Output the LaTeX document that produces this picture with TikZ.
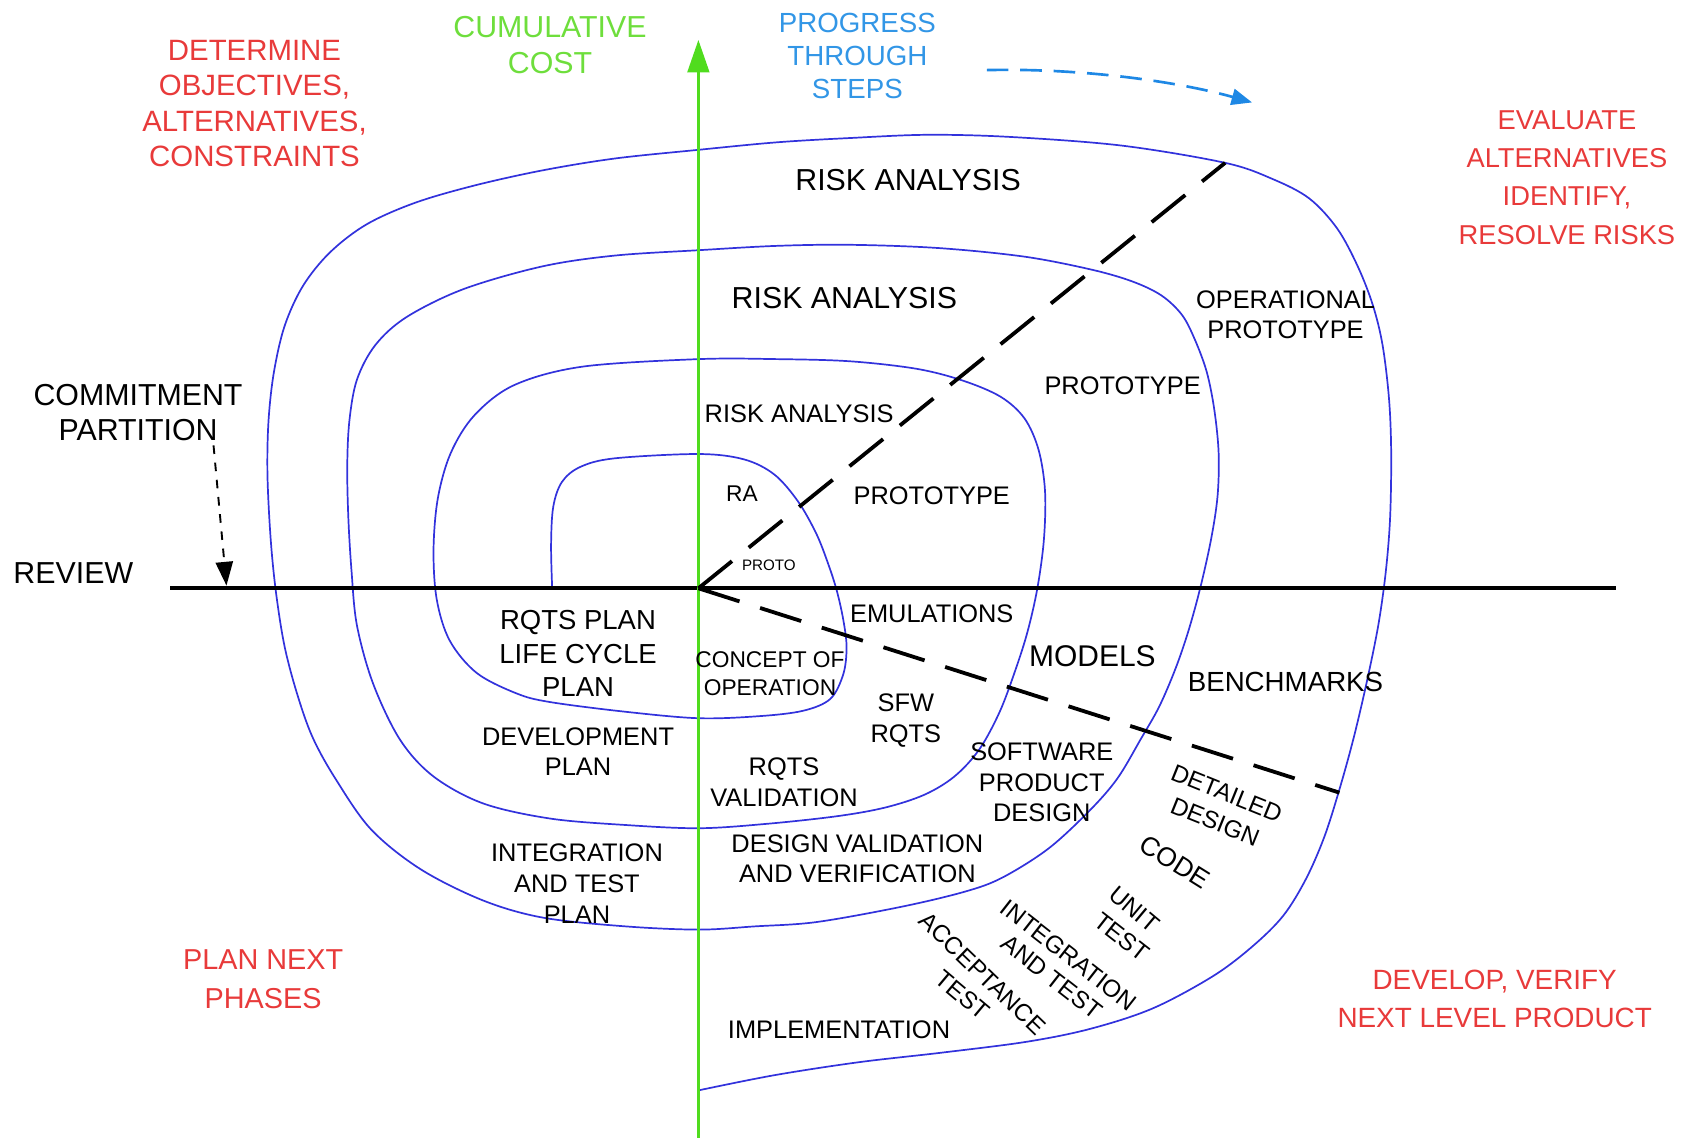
\documentclass[tikz,border=0pt]{standalone}
\usepackage{fontspec}
\setmainfont{Liberation Sans}
\usetikzlibrary{arrows.meta}
\definecolor{redtxt}{RGB}{232,58,58}
\definecolor{greenaxis}{RGB}{80,220,30}
\definecolor{greentxt}{RGB}{110,222,60}
\definecolor{bluetxt}{RGB}{50,150,230}
\definecolor{bluearrow}{RGB}{30,136,229}
\definecolor{spiralblue}{RGB}{50,50,220}
\newcommand\fz[2]{\fontsize{#1}{#2}\selectfont}
\begin{document}
\begin{tikzpicture}[x=0.01cm,y=-0.01cm,
  every node/.style={inner sep=0pt,outer sep=0pt,align=center},
  tsmall/.style={font=\fz{6.7}{8.1}},
  tbig/.style={font=\fz{8}{9.4}},
  trot/.style={font=\fz{6.4}{7.7}},
  redlbl/.style={text=redtxt},
  spiral/.style={draw=spiralblue,line width=0.45pt},
  bigdash/.style={line width=1pt,dash pattern=on 0.4cm off 0.2cm},
]
\useasboundingbox (0,0) rectangle (1568,1055);

% coordinates
\coordinate (O) at (647.6,545.5);
\coordinate (ytop) at (647.6,37);
\coordinate (ybot) at (647.6,1055);
\coordinate (revL) at (158,545.5);
\coordinate (revR) at (1498,545.5);
\coordinate (dU) at (1136,151);
\coordinate (dL) at (1242,735);
\coordinate (cmS) at (198,413);
\coordinate (cmE) at (210,543);
\coordinate (bS) at (915,65);
\coordinate (bE) at (1161,95);

% spiral
\draw[spiral] plot[smooth,tension=0.55] coordinates {
(512,545) (511,505) (513,470) (521,447) (538,433) (570,425) (648,421) (690,426) (718,440) (740,465) (757,495) (768,523) (776,548) (782,575) (785,600) (782,625) (770,648) (745,659) (705,664) (648,666) (580,660) (510,651) (479,643) (442,624) (417,594) (405,556) (402,510) (406,462) (418,420) (440,385) (477,357) (540,340) (648,333) (720,333) (788,335) (850,342) (893,353) (928,368) (950,388) (963,417) (969,455) (968,500) (962,545) (953,585) (942,620) (927,660) (908,695) (885,720) (857,737) (820,749) (775,757) (710,764) (648,768) (580,765) (510,759) (448,745) (402,720) (371,686) (346,634) (331,580) (326,530) (323,480) (322,432) (324,390) (331,352) (348,320) (377,294) (430,268) (503,247) (570,237) (648,232) (720,228) (788,227) (870,230) (950,238) (1012,250) (1050,261) (1077,274) (1096,292) (1108,315) (1119,345) (1126,380) (1130,420) (1129,460) (1123,500) (1113,545) (1102,585) (1090,620) (1075,655) (1058,685) (1036,722) (1010,752) (972,787) (929,814) (894,827) (835,841) (757,855) (700,859) (648,862) (580,859) (504,851) (448,835) (390,806) (344,769) (311,722) (290,684) (276,645) (264,600) (256,550) (251,500) (248,440) (249,390) (254,345) (264,302) (281,265) (306,234) (340,208) (385,188) (440,172) (503,158) (570,147) (647,139) (720,132) (788,128) (860,125) (937,127) (1040,135) (1136,151) (1180,166) (1214,184) (1240,212) (1259,247) (1273,283) (1282,320) (1288,370) (1290,420) (1289,480) (1285,530) (1278,580) (1267,634) (1255,685) (1242,732) (1228,776) (1211,815) (1190,849) (1162,877) (1125,905) (1069,935) (1011,954) (952,966) (874,976) (796,985) (718,997) (648,1011)};

% axes and partition lines
\draw[line width=1.1pt] (revL) -- (revR);
\draw[greenaxis,line width=0.75pt,-{Triangle[length=0.3cm,width=0.2cm]}] (ybot) -- (ytop);
\draw[bigdash] (O) -- (dU);
\draw[bigdash] (O) -- (dL);
\draw[line width=0.5pt,dash pattern=on 0.08cm off 0.08cm,-{Triangle[length=0.22cm,width=0.16cm]}] (cmS) -- (cmE);
\draw[bluearrow,line width=0.7pt,dash pattern=on 0.2cm off 0.11cm,-{Triangle[length=0.19cm,width=0.15cm]}] (bS) .. controls (1000,63) and (1090,75) .. (bE);

% quadrant labels
\node[redlbl,font=\fz{7.75}{9.4}] (determine) at (236,96) {DETERMINE\\OBJECTIVES,\\ALTERNATIVES,\\CONSTRAINTS};
\node[text=greentxt,font=\fz{8}{9.4}] (cumcost) at (510,41.5) {CUMULATIVE\\COST};
\node[text=bluetxt,font=\fz{7.3}{8.8}] (progress) at (795,52) {PROGRESS\\THROUGH\\STEPS};
\node[redlbl,font=\fz{7.2}{10.1}] (evaluate) at (1453,164.5) {EVALUATE\\ALTERNATIVES\\IDENTIFY,\\RESOLVE RISKS};
\node[redlbl,font=\fz{7.6}{10.2}] (plannext) at (244,908) {PLAN NEXT\\PHASES};
\node[redlbl,font=\fz{7.35}{10}] (develop) at (1386,926.5) {DEVELOP, VERIFY\\NEXT LEVEL PRODUCT};
\node[tbig] (commit) at (128,382.5) {COMMITMENT\\PARTITION};
\node[tbig] (review) at (68,531) {REVIEW};

% inner labels
\node[tbig] (risk1) at (842,167) {RISK ANALYSIS};
\node[tbig] (risk2) at (783,276) {RISK ANALYSIS};
\node[tsmall] (risk3) at (741,384) {RISK ANALYSIS};
\node[font=\fz{6}{7}] (ra) at (688,458) {RA};
\node[font=\fz{4}{5}] (proto) at (713,524) {PROTO};
\node[tsmall] (prototypeA) at (864,460) {PROTOTYPE};
\node[tsmall] (prototypeB) at (1041,358) {PROTOTYPE};
\node[font=\fz{6.7}{8}] (opproto) at (1192,292) {OPERATIONAL\\PROTOTYPE};
\node[tsmall] (emul) at (864,569) {EMULATIONS};
\node[font=\fz{7.9}{9}] (models) at (1013,608) {MODELS};
\node[font=\fz{7.3}{8.5}] (bench) at (1192,632) {BENCHMARKS};
\node[font=\fz{7.25}{8.8}] (rqtsplan) at (536,606) {RQTS PLAN\\LIFE CYCLE\\PLAN};
\node[font=\fz{6}{7.4}] (concept) at (714,625) {CONCEPT OF\\OPERATION};
\node[font=\fz{6.7}{8}] (devplan) at (536,697) {DEVELOPMENT\\PLAN};
\node[font=\fz{6.7}{8.2}] (sfw) at (840,668.5) {SFW\\RQTS};
\node[font=\fz{6.7}{8.2}] (rqtsval) at (727,725.5) {RQTS\\VALIDATION};
\node[font=\fz{6.7}{8.1}] (swpd) at (966,725.5) {SOFTWARE\\PRODUCT\\DESIGN};
\node[font=\fz{6.7}{8}] (dvv) at (795,796) {DESIGN VALIDATION\\AND VERIFICATION};
\node[font=\fz{6.7}{8.1}] (itp) at (535,819.5) {INTEGRATION\\AND TEST\\PLAN};
\node[tsmall] (impl) at (778,955) {IMPLEMENTATION};

% rotated labels
\node[trot,rotate=-22] (detailed) at (1137.5,735.6) {DETAILED};
\node[trot,rotate=-22] (ddesign) at (1126.7,762) {DESIGN};
\node[font=\fz{7}{8},rotate=-32] (code) at (1089.6,799) {CODE};
\node[trot,rotate=-40] (unit) at (1051.6,843.2) {UNIT};
\node[trot,rotate=-38] (utest) at (1040,869) {TEST};
\node[trot,rotate=-38] (integ) at (991,885.6) {INTEGRATION};
\node[trot,rotate=-38] (andtest) at (975.2,905.7) {AND TEST};
\node[trot,rotate=-44] (accept) at (911,902.6) {ACCEPTANCE};
\node[trot,rotate=-40] (atest) at (892.7,922.7) {TEST};
\end{tikzpicture}
\end{document}
